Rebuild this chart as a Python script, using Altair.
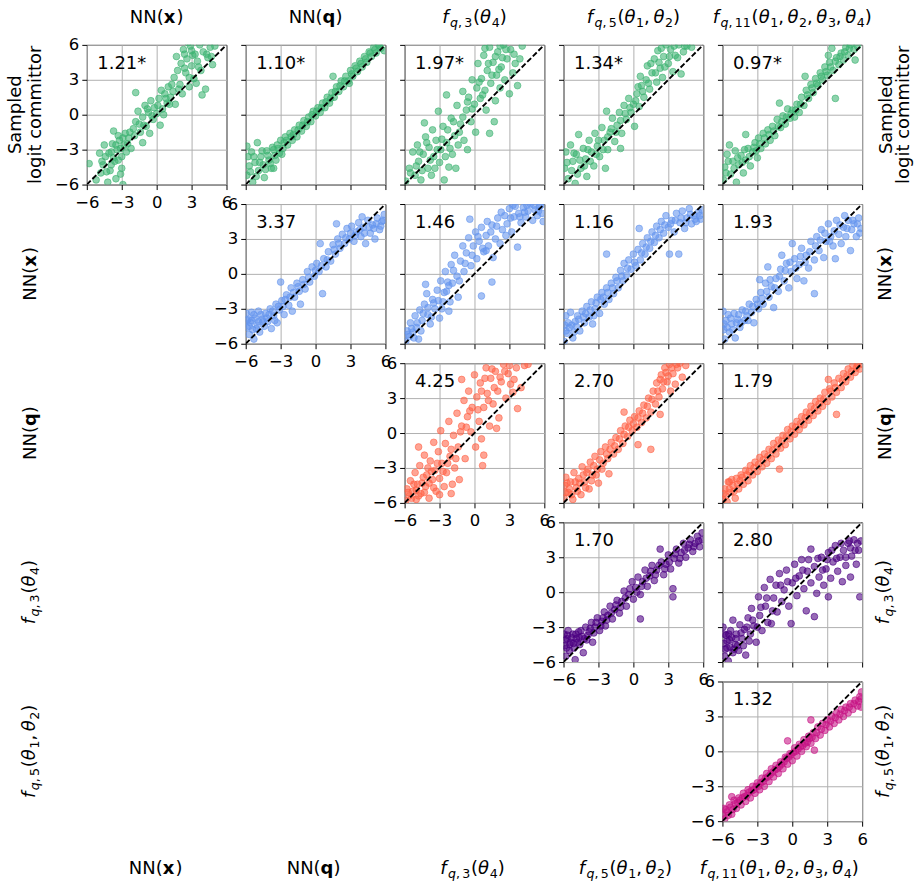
import altair as alt
import pandas as pd

FONT = "DejaVu Sans"
LIM = 6
TICKS = [-6, -3, 0, 3, 6]
COLORS = ["#3CB371", "#6495ED", "#FF6347", "#4B0082", "#C71585"]

# ---------------- data (x, y) per panel ----------------
# row 1: y = sampled logit committor
p11 = [(-5.8,-4.2),(-5.2,-5.6),(-4.8,-5.0),(-4.6,-4.3),(-4.4,-3.6),(-4.2,-5.8),(-4.0,-4.8),(-3.9,-3.2),(-3.8,-2.5),(-3.6,-4.0),
       (-3.5,-5.5),(-3.4,-3.0),(-3.3,-1.8),(-3.2,-2.2),(-3.0,-3.6),(-3.0,-4.6),(-2.8,-2.6),(-2.7,-1.6),(-2.6,-3.2),(-2.4,-2.0),
       (-4.5,-2.6),(-4.9,-3.3),(-3.7,-1.4),(-2.2,-2.9),(-3.1,-5.1),(-2.9,-6.0),(-2.0,-1.2),(-1.8,-0.6),(-1.6,0.3),(-1.8,1.9),
       (-1.4,-1.5),(-1.2,-0.2),(-1.0,0.8),(-0.9,-1.0),(-0.7,0.2),(-0.5,1.2),(-0.3,-0.4),(-0.2,0.6),(0.0,0.1),(0.2,1.4),
       (0.3,-0.9),(0.5,0.5),(0.7,1.8),(0.9,1.0),(1.0,2.4),(1.2,1.5),(1.4,2.0),(-0.6,-1.6),(0.4,2.1),(1.6,0.9),(-1.2,-2.4),
       (1.5,3.2),(1.8,3.8),(2.0,2.6),(2.1,4.4),(2.3,5.6),(2.5,3.6),(2.6,4.8),(2.8,2.4),(2.9,5.9),(3.0,4.2),(3.2,3.1),(3.3,5.2),
       (3.5,4.6),(3.7,6.0),(3.8,3.8),(3.9,1.7),(4.0,5.4),(4.2,2.2),(4.4,4.9),(4.6,5.8),(4.8,4.3),(2.2,1.8),(3.4,2.7),(1.7,5.0),
       (2.7,6.2),(4.1,6.3),(5.0,5.9),
       (-4.7,-4.0),(-4.3,-4.9),(-4.1,-3.3),(-3.9,-4.3),(-3.7,-3.7),(-3.5,-2.6),(-3.3,-3.9),(-3.1,-2.9),(-2.9,-2.0),(-2.5,-2.5),
       (-2.3,-1.5),(-1.9,-1.8),(-1.5,-0.8),(-1.1,-0.9),(-0.8,0.5),(-0.4,-0.1),(0.1,0.8),(0.6,0.0),(0.8,1.4),(1.1,0.9),
       (1.3,2.6),(1.9,2.2),(2.4,4.0),(2.8,3.2),(3.1,5.1),(3.6,4.1),(4.3,5.2),(4.7,5.0),(3.0,5.5),(2.4,5.2)]
p12 = [(-5.9,-2.7),(-5.8,-3.6),(-5.7,-4.4),(-5.9,-5.2),(-5.5,-3.2),(-5.4,-5.8),(-5.2,-4.1),(-5.0,-2.4),(-4.9,-4.8),(-4.7,-3.6),
       (-4.5,-4.3),(-4.4,-5.4),(-4.2,-3.1),(-4.0,-3.9),(-3.8,-4.6),(-3.7,-2.8),(-3.5,-3.5),(-3.3,-2.6),(-3.1,-3.3),(-3.0,-2.2),
       (-2.8,-2.9),(-2.6,-1.9),(-2.4,-2.6),(-2.2,-1.6),(-2.0,-2.2),(-1.8,-1.3),(-1.6,-1.9),(-1.4,-0.9),(-1.2,-1.4),(-1.0,-0.5),
       (-0.8,-1.0),(-0.6,-0.2),(-0.4,-0.6),(-0.2,0.3),(0.0,-0.1),(0.2,0.6),(0.4,0.2),(0.6,1.0),(0.8,0.6),(1.0,1.5),(1.2,1.0),
       (1.4,1.9),(1.5,3.3),(1.6,1.5),(1.8,2.4),(2.0,2.0),(2.2,2.9),(2.4,2.4),(2.6,3.3),(2.8,2.9),(2.9,2.7),(3.0,3.8),(3.2,3.3),
       (3.4,4.2),(3.6,3.7),(3.8,4.6),(4.0,4.1),(4.2,5.0),(4.4,4.5),(4.6,5.4),(4.8,5.0),(5.0,5.8),(5.2,5.3),(5.4,6.0),(5.6,5.7),
       (5.9,5.5),(-3.6,-4.6),
       (-5.6,-4.9),(-5.3,-3.6),(-5.1,-5.3),(-4.8,-4.1),(-4.6,-3.1),(-4.3,-4.7),(-4.1,-3.5),(-3.9,-4.2),(-3.6,-3.0),(-3.4,-3.9),
       (-3.2,-2.9),(-2.9,-3.4),(-2.7,-2.4),(-2.5,-2.2),(-2.1,-1.9),(-1.9,-1.7),(-1.5,-1.3),(-1.1,-0.9),(-0.7,-0.6),(-0.3,0.0),
       (0.1,0.3),(0.5,0.6),(0.9,1.1),(1.3,1.4),(1.7,2.0),(2.1,2.5),(2.5,2.9),(3.1,3.5),(3.5,4.0),(3.9,4.4),(4.3,4.8),(4.7,5.3),
       (5.1,5.6),(5.5,5.9)]
p13 = [(-5.9,-5.7),(-5.6,-4.6),(-5.3,-3.2),(-5.1,-5.2),(-4.9,-2.6),(-4.8,-4.0),(-4.6,-5.6),(-4.4,-3.4),(-4.3,-0.7),(-4.2,-1.9),
       (-4.0,-4.6),(-3.9,-2.8),(-3.7,-5.2),(-3.6,-1.3),(-3.5,-3.6),(-3.3,-2.2),(-3.1,0.3),(-3.0,-4.1),(-2.9,-3.0),(-2.7,-1.0),
       (-2.6,-5.6),(-2.4,1.7),(-2.4,-2.4),(-2.2,-4.5),(-2.0,-0.3),(-1.9,-3.4),(-1.7,-1.8),(-1.5,0.8),(-1.4,-2.6),(-1.2,-0.8),
       (-1.0,2.0),(-0.9,-2.2),(-0.7,0.4),(-0.5,1.5),(-0.3,-0.6),(-0.2,3.0),(0.0,0.9),(0.2,2.3),(0.3,4.4),(0.5,1.4),(0.6,3.1),
       (0.8,5.1),(0.9,2.1),(1.0,0.4),(1.1,3.8),(1.3,-1.6),(1.3,5.8),(1.4,2.7),(1.6,4.5),(1.8,1.2),(1.9,3.4),(2.0,5.4),(2.2,2.3),
       (2.3,4.1),(2.5,6.0),(2.6,3.0),(2.8,4.8),(3.0,1.8),(3.1,5.6),(3.3,3.6),(3.5,4.4),(3.7,2.5),(3.9,4.8),(4.1,5.9),(-1.6,-4.6),
       (-0.6,-3.0),(1.7,-0.6),(0.1,-1.5),
       (-5.5,-5.0),(-5.0,-4.4),(-4.7,-3.2),(-4.5,-4.8),(-4.1,-2.4),(-3.8,-3.9),(-3.4,-4.6),(-3.2,-3.0),(-2.8,-2.1),(-2.5,-3.6),
       (-2.3,-1.3),(-2.1,-2.9),(-1.8,-0.6),(-1.3,-1.5),(-1.0,-0.2),(-0.6,1.1),(-0.2,0.5),(0.4,2.8),(0.7,1.7),(1.2,4.4),
       (1.5,3.4),(1.8,5.0),(2.1,3.9),(2.4,4.9),(2.7,5.6),(0.9,5.7),(2.2,5.9),(3.4,5.2)]
p14 = [(-5.9,-4.6),(-5.8,-3.2),(-5.6,-5.5),(-5.4,-2.6),(-5.2,-4.0),(-5.0,-5.9),(-4.9,-3.4),(-4.7,-1.7),(-4.5,-4.6),(-4.3,-2.9),
       (-4.1,-3.8),(-4.0,-5.3),(-3.8,-2.2),(-3.6,-3.2),(-3.4,-4.4),(-3.3,-1.6),(-3.1,-2.7),(-2.9,-3.6),(-2.7,-1.1),(-2.5,-2.2),
       (-2.4,-4.6),(-2.3,0.3),(-2.2,-3.0),(-2.0,-1.5),(-1.8,-0.3),(-1.6,-2.3),(-1.4,-0.9),(-1.2,0.2),(-1.0,-1.6),(-0.8,0.8),
       (-0.6,-0.4),(-0.4,1.4),(-0.2,0.2),(0.0,0.9),(0.1,-1.0),(0.3,1.8),(0.5,0.7),(0.6,3.3),(0.7,2.5),(0.9,1.5),(1.1,3.0),
       (1.2,4.2),(1.4,2.2),(1.6,3.6),(1.8,4.8),(2.0,2.8),(2.1,5.5),(2.3,4.0),(2.5,3.2),(2.6,5.0),(2.8,6.0),(3.0,4.4),(3.2,5.6),
       (3.4,3.7),(3.6,5.1),(3.9,6.0),(4.1,3.5),(4.3,5.4),(4.6,5.9),(5.0,5.8),(-1.1,-2.9),
       (-5.7,-4.1),(-5.3,-4.8),(-5.1,-3.3),(-4.8,-5.1),(-4.6,-3.9),(-4.2,-4.4),(-3.9,-3.0),(-3.7,-4.0),(-3.2,-3.4),(-3.0,-2.2),
       (-2.6,-3.0),(-2.2,-1.9),(-1.9,-1.2),(-1.5,-1.5),(-1.1,-0.5),(-0.7,0.1),(-0.3,0.6),(0.2,1.2),(0.4,2.4),(0.8,2.0),
       (1.3,2.7),(1.5,4.4),(1.9,3.6),(2.2,4.5),(2.4,5.7),(2.7,4.1),(3.1,5.0),(3.5,5.9),(3.8,4.9),(4.4,5.9)]
p15 = [(-5.9,-5.6),(-5.8,-4.5),(-5.6,-3.4),(-5.4,-2.6),(-5.3,-5.1),(-5.1,-4.0),(-4.9,-3.1),(-4.8,-5.8),(-4.6,-4.3),(-4.4,-3.5),
       (-4.2,-5.0),(-4.0,-1.7),(-4.0,-3.9),(-3.8,-2.9),(-3.6,-4.4),(-3.4,-3.2),(-3.2,-2.4),(-3.0,-3.7),(-2.9,-2.0),(-2.7,-2.9),
       (-2.5,-1.6),(-2.3,-2.5),(-2.1,-1.3),(-1.9,-2.2),(-1.7,-1.0),(-1.5,-1.8),(-1.3,-0.4),(-1.1,1.0),(-1.0,-1.1),(-0.8,-0.1),
       (-0.6,-0.8),(-0.4,0.5),(-0.2,-0.3),(0.0,0.4),(0.2,-0.2),(0.4,0.9),(0.6,0.2),(0.8,1.5),(1.0,0.8),(1.1,3.3),(1.2,2.1),
       (1.4,1.4),(1.6,2.6),(1.8,1.9),(2.0,3.1),(2.2,2.5),(2.4,3.6),(2.6,3.0),(2.8,4.1),(3.0,3.4),(3.2,4.5),(3.4,5.7),(3.5,3.8),
       (3.7,1.4),(3.8,4.9),(4.0,4.3),(4.2,5.3),(4.4,4.7),(4.6,5.8),(4.8,5.1),(5.0,6.0),(5.3,5.6),(5.6,5.9),(5.4,4.7),
       (-5.7,-5.0),(-5.5,-4.0),(-5.0,-4.6),(-4.7,-3.7),(-4.3,-4.1),(-4.1,-3.0),(-3.7,-3.6),(-3.3,-2.8),(-3.1,-3.1),(-2.8,-2.5),
       (-2.4,-2.0),(-2.0,-1.7),(-1.6,-1.4),(-1.2,-1.0),(-0.9,-0.6),(-0.5,-0.2),(-0.1,0.1),(0.3,0.4),(0.7,0.9),(1.3,1.7),
       (1.7,2.3),(2.1,2.7),(2.5,3.3),(2.9,3.7),(3.3,4.1),(3.7,4.6),(4.1,5.0),(4.5,5.4),(4.9,5.7),(3.1,5.1)]
# row 2: y = NN(x)
p22 = [(-5.95,-3.4),(-5.9,-4.6),(-5.8,-3.9),(-5.7,-5.2),(-5.6,-4.2),(-5.5,-3.3),(-5.4,-4.8),(-5.2,-3.8),(-5.0,-4.4),(-4.9,-3.2),
       (-4.8,-5.0),(-4.6,-3.9),(-4.4,-4.5),(-4.3,-3.4),(-4.1,-4.1),(-3.9,-3.0),(-3.8,-4.7),(-3.6,-3.6),(-3.4,-2.6),(-3.3,-4.2),
       (-3.1,-3.1),(-3.0,-0.7),(-2.9,-2.3),(-2.7,-3.5),(-2.5,-1.8),(-2.3,-2.7),(-2.1,-1.2),(-2.0,-3.2),(-1.8,-2.0),(-1.6,-0.8),
       (-1.4,-1.5),(-1.3,-2.6),(-1.1,-0.5),(-0.9,-1.3),(-0.7,0.2),(-0.5,-0.7),(-0.3,0.6),(-0.1,-0.2),(0.1,0.9),(0.3,0.2),
       (0.4,2.6),(0.6,-1.7),(0.7,1.3),(0.9,0.6),(1.1,1.9),(1.3,1.1),(1.5,2.5),(1.7,1.7),(1.8,4.3),(1.9,3.0),(2.1,2.2),(2.3,3.4),
       (2.5,2.6),(2.7,3.9),(2.9,3.0),(3.1,4.1),(3.3,2.8),(3.5,3.6),(3.7,4.4),(3.9,3.2),(4.1,4.0),(4.3,2.6),(4.5,4.6),(4.7,3.5),
       (4.9,4.2),(5.1,3.0),(5.3,4.8),(5.5,3.8),(5.7,4.5),(5.9,5.1),(4.0,4.9),(5.0,3.9),(-5.3,-5.6),
       (-5.9,-4.0),(-5.7,-4.5),(-5.5,-4.0),(-5.3,-3.5),(-5.1,-4.7),(-4.9,-4.1),(-4.7,-3.5),(-4.5,-4.1),(-4.2,-3.8),(-4.0,-3.5),
       (-3.7,-3.2),(-3.5,-4.0),(-3.2,-2.8),(-2.8,-2.8),(-2.6,-2.2),(-2.2,-2.0),(-1.9,-1.6),(-1.5,-1.1),(-1.0,-0.9),(-0.6,-0.3),
       (0.0,0.3),(0.5,0.7),(1.0,1.2),(1.6,2.1),(2.0,2.6),(2.6,3.1),(3.0,3.5),(3.4,3.3),(3.8,3.8),(4.2,3.5),(4.6,4.0),(5.2,4.3),
       (5.6,4.1),(5.8,4.6)]
p23 = [(-5.9,-5.8),(-5.8,-4.9),(-5.6,-5.4),(-5.5,-4.2),(-5.3,-5.0),(-5.1,-3.6),(-5.0,-4.6),(-4.8,-5.6),(-4.7,-3.1),(-4.5,-4.0),
       (-4.3,-2.6),(-4.2,-0.9),(-4.1,-1.7),(-4.0,-3.5),(-3.8,-4.3),(-3.6,-2.2),(-3.4,-3.0),(-3.2,-1.4),(-3.0,-3.8),(-2.9,-0.6),
       (-2.7,-2.4),(-2.5,0.2),(-2.4,-1.5),(-2.2,-3.2),(-2.0,0.8),(-1.9,-0.8),(-1.7,1.6),(-1.5,-0.2),(-1.4,-2.0),(-1.2,1.1),
       (-1.0,2.4),(-0.9,0.2),(-0.7,1.8),(-0.5,3.1),(-0.4,4.7),(-0.3,0.7),(-0.1,2.4),(0.1,3.6),(0.2,1.3),(0.4,2.8),(0.6,-1.9),
       (0.6,4.0),(0.8,1.9),(1.0,3.3),(1.2,2.4),(1.5,-0.7),(1.5,4.2),(1.6,1.4),(1.8,3.0),(2.0,4.8),(2.2,2.6),(2.4,3.8),(2.6,5.0),
       (2.8,4.3),(3.0,5.6),(3.2,3.6),(3.4,4.9),(3.5,5.8),(3.7,2.3),(3.8,5.2),(4.0,4.4),(4.2,5.7),(4.4,4.9),(4.6,5.4),(4.8,6.0),
       (5.0,4.6),(5.2,5.5),(5.4,5.0),(5.6,5.8),(5.8,5.2),(5.9,4.5),(1.0,2.0),(-2.2,-1.0),
       (-5.7,-5.2),(-5.4,-4.7),(-5.2,-5.5),(-4.9,-4.2),(-4.6,-4.9),(-4.4,-3.4),(-4.0,-2.9),(-3.7,-3.7),(-3.5,-2.5),(-3.1,-2.3),
       (-2.8,-3.0),(-2.6,-1.6),(-2.3,-0.7),(-2.1,-2.4),(-1.8,0.3),(-1.3,-0.6),(-0.8,0.9),(-0.2,1.6),(0.3,3.2),(0.7,2.2),
       (1.1,4.5),(1.4,3.6),(1.9,4.1),(2.3,5.3),(2.7,3.3),(3.1,4.8),(3.3,5.9),(3.9,4.9),(4.3,5.3),(4.5,5.9),(5.1,5.9),(5.5,5.4),
       (5.7,5.9)]
p24 = [(-5.95,-5.8),(-5.9,-4.4),(-5.8,-3.6),(-5.7,-5.1),(-5.5,-4.6),(-5.4,-3.3),(-5.2,-5.5),(-5.0,-4.1),(-4.8,-3.6),(-4.6,-4.9),
       (-4.4,-3.2),(-4.2,-4.2),(-4.0,-2.8),(-3.8,-3.7),(-3.6,-2.4),(-3.5,-4.3),(-3.3,-3.0),(-3.1,-2.0),(-2.9,-3.4),(-2.7,-1.6),
       (-2.5,-2.6),(-2.3,1.7),(-2.3,-1.2),(-2.1,-2.2),(-1.9,-0.8),(-1.7,-1.7),(-1.5,-0.3),(-1.3,-1.2),(-1.1,0.3),(-0.9,-0.6),
       (-0.8,0.9),(-0.6,-0.1),(-0.4,1.2),(-0.2,0.4),(0.0,1.7),(0.2,0.7),(0.4,2.1),(0.5,3.9),(0.6,1.2),(0.8,2.6),(1.0,1.7),
       (1.2,3.1),(1.4,2.2),(1.6,3.6),(1.8,2.7),(2.0,4.1),(2.2,3.1),(2.4,4.5),(2.6,3.5),(2.8,5.0),(3.0,4.0),(3.1,1.7),(3.3,4.6),
       (3.5,3.6),(3.7,5.2),(3.9,1.7),(4.0,4.4),(4.2,5.4),(4.4,3.9),(4.6,4.8),(4.8,5.6),(5.0,4.3),(5.2,5.0),(5.4,4.5),(5.6,5.3),
       (5.8,4.7),(5.9,5.5),
       (-5.8,-4.9),(-5.6,-4.2),(-5.3,-4.4),(-5.1,-5.0),(-4.9,-4.5),(-4.7,-3.9),(-4.3,-3.7),(-4.1,-3.4),(-3.7,-3.1),(-3.4,-3.6),
       (-3.2,-2.5),(-2.8,-2.2),(-2.6,-2.0),(-2.2,-1.6),(-1.8,-1.2),(-1.4,-0.6),(-1.0,-0.2),(-0.5,0.5),(0.1,1.0),(0.7,1.8),
       (1.1,2.3),(1.5,2.8),(1.9,3.3),(2.3,3.8),(2.7,4.2),(3.2,4.3),(3.6,4.6),(4.1,4.8),(4.5,4.4),(4.9,5.1),(5.3,4.7),(5.7,5.0)]
p25 = [(-5.95,-3.2),(-5.9,-4.8),(-5.8,-5.6),(-5.7,-4.0),(-5.5,-3.5),(-5.4,-5.0),(-5.2,-4.3),(-5.0,-3.4),(-4.9,-5.5),(-4.7,-3.9),
       (-4.5,-4.6),(-4.3,-3.1),(-4.1,-4.0),(-3.9,-3.6),(-3.7,-2.6),(-3.5,-3.3),(-3.3,-4.2),(-3.1,-2.2),(-2.9,-3.0),(-2.7,-1.6),
       (-2.5,-2.6),(-2.3,-0.8),(-2.1,0.6),(-2.0,-2.0),(-1.8,-1.1),(-1.6,-2.9),(-1.4,-0.4),(-1.2,-1.5),(-1.0,0.4),(-0.9,1.6),
       (-0.7,-0.6),(-0.5,0.9),(-0.3,-1.2),(-0.1,0.2),(0.0,2.6),(0.2,1.3),(0.4,-0.4),(0.6,0.8),(0.8,2.2),(1.0,-0.6),(1.2,1.6),
       (1.4,0.5),(1.6,2.8),(1.9,-1.7),(1.9,1.2),(2.1,3.2),(2.3,2.0),(2.5,3.8),(2.7,1.4),(2.9,2.8),(3.1,4.3),(3.3,3.2),(3.5,2.4),
       (3.7,1.3),(3.8,4.6),(4.0,3.4),(4.2,2.6),(4.4,4.0),(4.6,3.2),(4.8,4.6),(5.0,2.0),(5.1,3.8),(5.3,4.3),(5.5,3.2),(5.7,4.8),
       (5.9,3.9),(4.5,5.0),(-2.8,-0.5),
       (-5.85,-4.3),(-5.6,-4.6),(-5.3,-3.8),(-5.1,-4.8),(-4.8,-4.2),(-4.6,-3.5),(-4.4,-4.2),(-4.0,-3.2),(-3.8,-4.0),(-3.4,-2.8),
       (-3.0,-2.6),(-2.6,-2.1),(-2.2,-1.5),(-1.9,-0.5),(-1.5,-1.2),(-1.1,-0.2),(-0.6,0.3),(-0.2,1.0),(0.3,0.5),(0.7,1.5),
       (1.1,1.0),(1.5,1.9),(2.0,2.4),(2.4,2.9),(2.8,3.5),(3.2,2.8),(3.6,3.7),(4.1,4.2),(4.7,3.9),(5.2,4.6),(5.6,4.3),(5.8,3.5)]
# row 3: y = NN(q)
p33 = [(-5.9,-5.8),(-5.8,-4.8),(-5.6,-5.4),(-5.5,-4.1),(-5.3,-5.0),(-5.1,-3.4),(-5.0,-5.7),(-4.9,-4.4),(-4.7,-2.8),(-4.6,-5.2),
       (-4.4,-3.8),(-4.3,-1.9),(-4.2,-4.6),(-4.0,-3.0),(-3.9,-5.6),(-3.8,-2.4),(-3.6,-4.0),(-3.5,-0.8),(-3.4,-3.2),(-3.3,-5.0),
       (-3.1,-1.6),(-3.0,-3.9),(-2.9,0.2),(-2.8,-2.6),(-2.6,-4.6),(-2.5,-0.9),(-2.4,-3.4),(-2.2,1.0),(-2.1,-2.0),(-2.0,-5.2),
       (-1.8,-0.2),(-1.7,-3.0),(-1.5,1.7),(-1.4,-1.2),(-1.3,-4.0),(-1.1,4.6),(-1.1,0.6),(-0.9,2.8),(-0.8,-2.2),(-0.6,1.4),
       (-0.5,3.6),(-0.3,0.1),(-0.2,2.2),(0.0,5.0),(0.1,-1.2),(0.2,3.1),(0.4,1.0),(0.5,4.3),(0.7,-2.8),(0.8,-1.9),(0.8,2.2),
       (1.0,5.6),(1.1,3.4),(1.3,0.6),(1.4,4.7),(1.6,2.5),(1.8,5.3),(2.0,3.6),(2.1,1.3),(2.3,4.4),(2.5,5.9),(2.7,3.0),(2.9,5.1),
       (3.1,4.2),(3.4,4.6),(3.6,5.6),(3.7,2.1),(4.0,3.9),(4.3,5.8),(4.6,5.9),(-4.8,-1.2),(-1.9,-4.4),(0.6,-0.5),(1.9,0.4),
       (-5.7,-5.1),(-5.4,-5.6),(-5.2,-4.4),(-5.0,-4.9),(-4.8,-5.4),(-4.5,-4.3),(-4.3,-5.1),(-4.1,-3.6),(-3.9,-4.3),(-3.7,-3.3),
       (-3.5,-4.7),(-3.2,-2.6),(-3.0,-5.3),(-2.7,-3.3),(-2.3,-2.6),(-2.0,-1.4),(-1.6,-2.2),(-1.2,0.1),(-0.7,0.5),(-0.4,1.9),
       (0.3,2.0),(0.6,3.6),(0.9,4.7),(1.2,2.8),(1.5,5.5),(1.7,3.9),(2.2,4.8),(2.6,5.3),(3.0,5.8),(3.3,3.5)]
p34 = [(-5.95,-5.6),(-5.9,-4.5),(-5.8,-3.8),(-5.6,-5.1),(-5.4,-4.2),(-5.2,-5.7),(-5.1,-3.4),(-4.9,-4.7),(-4.7,-3.9),(-4.5,-5.3),
       (-4.4,-2.9),(-4.2,-4.2),(-4.0,-3.4),(-3.8,-4.8),(-3.7,-2.5),(-3.5,-3.6),(-3.3,-2.0),(-3.1,-3.1),(-3.0,-4.3),(-2.8,-1.6),
       (-2.6,-2.6),(-2.4,-1.2),(-2.2,-2.2),(-2.1,-3.5),(-1.9,-0.8),(-1.7,-1.8),(-1.5,-0.4),(-1.3,-1.4),(-1.1,0.2),(-0.9,-0.9),
       (-0.7,0.6),(-0.5,-0.3),(-0.3,1.1),(-0.1,0.2),(0.1,1.4),(0.3,0.5),(0.5,1.9),(0.7,0.9),(0.9,2.4),(1.1,1.3),(1.3,3.0),
       (1.5,-1.4),(1.5,1.8),(1.7,3.6),(1.9,2.5),(2.0,4.3),(2.2,3.1),(2.4,5.0),(2.5,3.8),(2.7,5.6),(2.9,4.4),(3.1,5.9),(3.2,3.6),
       (3.4,5.1),(3.6,4.2),(3.8,5.6),(4.0,6.0),(4.2,4.8),(4.5,5.8),(-0.8,1.8),(0.4,-1.0),(2.3,1.6),
       (-5.85,-5.1),(-5.7,-4.3),(-5.5,-4.8),(-5.3,-5.3),(-5.0,-4.2),(-4.8,-5.0),(-4.6,-4.3),(-4.3,-3.6),(-4.1,-4.7),(-3.9,-3.1),
       (-3.6,-4.1),(-3.4,-2.8),(-3.2,-3.6),(-2.9,-2.3),(-2.7,-3.1),(-2.3,-1.8),(-2.0,-1.4),(-1.6,-1.1),(-1.2,-0.5),(-0.8,-0.1),
       (-0.4,0.5),(0.0,0.8),(0.4,1.3),(0.8,1.7),(1.2,2.3),(1.6,2.9),(2.1,3.6),(2.3,4.6),(2.6,4.4),(2.8,5.2),(3.0,4.9),(3.3,5.6),
       (3.7,5.9)]
p35 = [(-5.95,-5.7),(-5.8,-4.8),(-5.6,-5.9),(-5.5,-4.2),(-5.3,-5.1),(-5.1,-4.5),(-4.9,-5.6),(-4.8,-3.9),(-4.6,-4.8),(-4.4,-3.6),
       (-4.2,-4.4),(-4.0,-3.2),(-3.8,-4.1),(-3.6,-2.8),(-3.4,-3.6),(-3.2,-2.5),(-3.0,-3.3),(-2.8,-2.1),(-2.6,-2.9),(-2.4,-1.8),
       (-2.2,-2.6),(-2.0,-1.4),(-1.8,-2.2),(-1.6,-0.9),(-1.4,-1.8),(-1.1,-3.1),(-1.2,-0.6),(-1.0,-1.3),(-0.8,-0.2),(-0.6,-1.0),
       (-0.4,0.3),(-0.2,-0.5),(0.0,0.6),(0.2,-0.1),(0.4,1.0),(0.6,0.3),(0.8,1.4),(1.0,0.7),(1.2,1.8),(1.4,1.1),(1.6,2.3),
       (1.8,1.5),(2.0,2.7),(2.2,1.9),(2.4,3.0),(2.6,2.3),(2.8,3.5),(3.0,2.7),(3.1,4.6),(3.2,3.8),(3.4,3.1),(3.6,4.3),(3.8,1.6),
       (3.8,3.5),(4.0,4.7),(4.2,3.9),(4.4,5.1),(4.6,4.4),(4.8,5.5),(5.0,4.8),(5.2,5.8),(5.4,5.2),(5.6,5.9),(5.8,5.5),(-5.4,-4.2),
       (-5.9,-5.2),(-5.7,-5.4),(-5.4,-4.8),(-5.2,-4.0),(-5.0,-5.0),(-4.7,-4.4),(-4.5,-4.1),(-4.3,-3.8),(-3.9,-3.6),(-3.7,-3.3),
       (-3.3,-3.0),(-2.9,-2.7),(-2.5,-2.3),(-2.1,-2.0),(-1.7,-1.5),(-1.3,-1.2),(-0.9,-0.7),(-0.5,-0.3),(-0.1,0.1),(0.3,0.5),
       (0.7,0.8),(1.1,1.3),(1.5,1.7),(1.9,2.1),(2.3,2.5),(2.7,2.9),(3.3,3.6),(3.7,3.9),(4.3,4.5),(4.7,4.9),(5.1,5.3),(5.5,5.6),
       (5.9,5.9)]
# row 4: y = f_q,3
p44 = [(-5.95,-3.6),(-5.9,-4.6),(-5.8,-5.5),(-5.7,-4.0),(-5.6,-3.3),(-5.5,-5.0),(-5.4,-4.3),(-5.2,-3.6),(-5.1,-4.8),(-5.0,-5.8),
       (-4.9,-4.0),(-4.7,-3.4),(-4.6,-4.5),(-4.4,-3.8),(-4.3,-5.2),(-4.1,-3.0),(-4.0,-4.1),(-3.8,-3.4),(-3.6,-2.6),(-3.5,-4.3),
       (-3.3,-3.0),(-3.1,-2.2),(-2.9,-3.3),(-2.7,-2.5),(-2.5,-1.7),(-2.4,-2.9),(-2.2,-2.0),(-2.0,-1.2),(-1.8,-2.3),(-1.6,-1.5),
       (-1.4,-0.7),(-1.2,-1.8),(-1.0,-0.8),(-0.8,0.1),(-0.6,-1.2),(-0.4,-0.2),(-0.1,0.9),(0.0,-0.6),(0.2,0.4),(0.4,1.3),
       (0.6,-2.3),(0.6,-0.2),(0.8,0.9),(1.0,1.9),(1.2,0.5),(1.4,1.4),(1.6,2.3),(1.8,1.0),(2.0,1.9),(2.3,3.7),(2.4,2.6),(2.6,1.5),
       (2.8,2.4),(3.0,3.2),(3.2,2.0),(3.4,0.3),(3.4,-0.4),(3.5,2.9),(3.7,3.7),(3.9,2.5),(4.1,3.4),(4.3,4.2),(4.5,3.0),(4.7,3.8),
       (4.9,4.5),(5.1,3.5),(5.3,4.2),(5.5,4.8),(5.7,3.9),(5.9,4.5),(5.9,5.1),
       (-5.85,-4.1),(-5.75,-4.8),(-5.65,-3.7),(-5.45,-4.5),(-5.3,-3.9),(-5.15,-4.4),(-4.95,-3.6),(-4.8,-4.3),(-4.65,-3.9),
       (-4.5,-3.3),(-4.2,-4.0),(-3.9,-3.7),(-3.7,-3.1),(-3.4,-3.5),(-3.2,-2.6),(-2.8,-2.9),(-2.6,-2.2),(-2.3,-2.4),(-1.9,-1.8),
       (-1.5,-1.1),(-1.1,-1.3),(-0.7,-0.5),(-0.3,0.3),(0.3,0.0),(0.7,0.5),(1.1,1.2),(1.5,1.8),(1.9,1.5),(2.2,2.3),(2.7,2.0),
       (3.1,2.6),(3.6,3.3),(4.0,2.9),(4.4,3.6),(4.8,4.1),(5.2,3.9),(5.6,4.4)]
p45 = [(-5.95,-3.0),(-5.9,-4.4),(-5.8,-5.5),(-5.7,-3.7),(-5.6,-4.8),(-5.5,-5.9),(-5.4,-4.1),(-5.3,-3.3),(-5.1,-2.4),(-5.1,-5.2),
       (-4.9,-4.5),(-4.8,-3.6),(-4.6,-5.0),(-4.5,-2.8),(-4.3,-4.0),(-4.1,-3.2),(-4.0,-5.4),(-3.8,-2.2),(-3.6,-3.6),(-3.5,-1.4),
       (-3.3,-2.9),(-3.1,-4.3),(-2.9,-0.4),(-2.8,-2.0),(-2.6,-3.3),(-2.4,0.4),(-2.3,-1.2),(-2.1,-2.6),(-1.9,1.1),(-1.8,-2.7),
       (-1.6,-0.5),(-1.4,0.6),(-1.3,-1.7),(-1.1,1.6),(-0.9,-0.8),(-0.7,0.2),(-0.5,1.9),(-0.3,-1.2),(-0.1,-2.7),(0.0,0.8),
       (0.2,2.4),(0.4,-0.3),(0.6,1.4),(0.8,2.8),(1.0,0.3),(1.2,-1.6),(1.3,1.8),(1.6,3.7),(1.6,0.8),(1.9,-2.1),(1.9,2.2),
       (2.1,-0.1),(2.3,1.3),(2.5,3.0),(2.7,0.6),(2.9,2.0),(3.1,-0.4),(3.1,3.4),(3.3,1.2),(3.5,2.6),(3.7,4.0),(3.9,1.8),(4.1,3.0),
       (4.3,0.9),(4.4,3.6),(4.6,2.3),(4.8,4.2),(5.0,1.3),(5.1,3.1),(5.3,4.5),(5.5,2.4),(5.7,3.6),(5.8,-0.4),(5.9,4.4),(4.9,4.4),
       (-5.85,-3.6),(-5.75,-4.9),(-5.6,-4.2),(-5.45,-3.6),(-5.35,-4.7),(-5.2,-3.9),(-5.0,-4.9),(-4.85,-4.0),(-4.7,-4.6),
       (-4.4,-3.5),(-4.2,-4.6),(-3.9,-3.0),(-3.7,-4.2),(-3.4,-2.4),(-3.0,-3.0),(-2.7,-1.3),(-2.2,-0.5),(-1.7,-1.6),(-1.0,0.6),
       (-0.4,0.9),(0.3,1.2),(0.9,1.9),(1.4,2.8),(2.2,2.9),(2.6,1.9),(3.0,2.8),(3.4,3.6),(3.8,2.9),(4.2,4.2),(4.6,3.0),(5.0,3.8),
       (5.4,3.6),(5.6,4.2)]
# row 5: y = f_q,5
p55 = [(-5.95,-5.5),(-5.9,-4.9),(-5.8,-5.8),(-5.6,-5.2),(-5.4,-4.6),(-5.2,-5.4),(-5.0,-4.2),(-4.8,-4.9),(-4.6,-4.0),(-4.4,-4.6),
       (-4.2,-3.6),(-4.0,-4.3),(-3.8,-3.3),(-3.6,-4.0),(-3.4,-3.0),(-3.2,-3.6),(-3.0,-2.7),(-2.8,-3.3),(-2.6,-2.3),(-2.4,-3.0),
       (-2.2,-1.9),(-2.0,-2.6),(-1.8,-1.5),(-1.6,-2.2),(-1.4,-1.2),(-1.2,-1.9),(-1.0,-0.9),(-0.8,-1.5),(-0.6,-0.5),(-0.4,0.9),
       (-0.4,-1.1),(-0.2,-0.2),(0.0,-0.8),(0.2,0.3),(0.4,-0.4),(0.6,0.6),(0.8,0.0),(1.0,1.0),(1.2,0.4),(1.4,1.3),(1.6,0.7),
       (1.9,0.1),(1.8,1.6),(2.0,1.1),(2.2,2.1),(2.4,1.4),(2.6,2.4),(2.8,1.8),(3.0,2.7),(3.2,2.1),(3.4,3.0),(3.6,2.4),(3.8,3.3),
       (4.0,2.7),(4.2,3.6),(4.4,3.0),(4.6,3.8),(4.8,3.3),(5.0,4.1),(5.2,3.6),(5.4,4.4),(5.6,3.9),(5.8,4.7),(5.9,3.8),(5.95,5.1),
       (1.6,2.7),(-5.2,-3.9),
       (-5.7,-5.0),(-5.5,-5.5),(-5.3,-4.8),(-5.1,-5.0),(-4.9,-4.5),(-4.7,-4.4),(-4.5,-4.2),(-4.3,-4.0),(-4.1,-3.9),(-3.9,-3.8),
       (-3.7,-3.5),(-3.5,-3.4),(-3.3,-3.3),(-3.1,-3.0),(-2.9,-3.0),(-2.7,-2.7),(-2.5,-2.6),(-2.3,-2.3),(-2.1,-2.2),(-1.9,-2.0),
       (-1.7,-1.8),(-1.5,-1.6),(-1.3,-1.5),(-1.1,-1.3),(-0.9,-1.1),(-0.7,-0.9),(-0.5,-0.6),(-0.3,-0.5),(-0.1,-0.3),(0.1,-0.1),
       (0.3,0.0),(0.5,0.2),(0.7,0.4),(0.9,0.5),(1.1,0.7),(1.3,0.8),(1.5,1.1),(1.7,1.2),(2.1,1.6),(2.5,1.9),(2.9,2.3),(3.3,2.6),
       (3.7,2.9),(4.1,3.2),(4.5,3.5),(4.9,3.8),(5.3,4.1),(5.7,4.3),(5.9,4.5)]

PANELS = {(0, 0): p11, (0, 1): p12, (0, 2): p13, (0, 3): p14, (0, 4): p15,
          (1, 1): p22, (1, 2): p23, (1, 3): p24, (1, 4): p25,
          (2, 2): p33, (2, 3): p34, (2, 4): p35,
          (3, 3): p44, (3, 4): p45,
          (4, 4): p55}
SCORES = {(0, 0): "1.21*", (0, 1): "1.10*", (0, 2): "1.97*", (0, 3): "1.34*", (0, 4): "0.97*",
          (1, 1): "3.37", (1, 2): "1.46", (1, 3): "1.16", (1, 4): "1.93",
          (2, 2): "4.25", (2, 3): "2.70", (2, 4): "1.79",
          (3, 3): "1.70", (3, 4): "2.80",
          (4, 4): "1.32"}

# ---------------- layout constants ----------------
PW = 140
MAIN = 18
SUB = 12.6
SUBDY = 4.3
TICKF = 16.5
DUMMY = pd.DataFrame({"k": [0]})

CW = {"N": 0.748, "(": 0.390, ")": 0.390, "x": 0.592, "q": 0.635, "f": 0.352, ",": 0.318, " ": 0.318, "θ": 0.613}
for d in "0123456789":
    CW[d] = 0.636
BW = dict(CW, x=0.711, q=0.716)


def seg_width(t, st):
    size = SUB if st in ("si", "sn") else MAIN
    tbl = BW if st == "b" else CW
    return sum(tbl.get(ch, 0.6) for ch in t) * size


def rich(segs, x0, y0, rotate=False):
    total = 0.0
    placed = []
    for t, st in segs:
        if st == "g":
            total += t * MAIN
            continue
        placed.append((t, st, total))
        total += seg_width(t, st)
    out = []
    for t, st, off in placed:
        size = SUB if st in ("si", "sn") else MAIN
        shift = SUBDY if st in ("si", "sn") else 0
        along = off - total / 2
        if rotate:
            px, py, ang = x0 + shift, y0 - along, 270
        else:
            px, py, ang = x0 + along, y0 + shift, 0
        out.append(alt.Chart(DUMMY).mark_text(
            text=t, align="left", baseline="alphabetic", angle=ang, font=FONT, fontSize=size,
            fontStyle="italic" if st in ("i", "si") else "normal",
            fontWeight="bold" if st == "b" else "normal", color="black"
        ).encode(x=alt.value(px), y=alt.value(py)))
    return out


def plain(text, x0, y0):
    return [alt.Chart(DUMMY).mark_text(
        text=text, align="center", baseline="alphabetic", angle=270,
        font=FONT, fontSize=MAIN, color="black").encode(x=alt.value(x0), y=alt.value(y0))]


def nn(v):
    return [("NN(", "n"), (v, "b"), (")", "n")]


def fq(sub, args):
    s = [("f", "i"), (0.08, "g"), ("q", "si"), (",", "sn"), (0.12, "g"), (sub, "sn"), (0.05, "g"), ("(", "n")]
    for i, a in enumerate(args):
        if i:
            s += [(",", "n"), (0.2, "g")]
        s += [("θ", "i"), (0.03, "g"), (str(a), "sn")]
    s.append((")", "n"))
    return s


COL_LABELS = [nn("x"), nn("q"), fq("3", [4]), fq("5", [1, 2]), fq("11", [1, 2, 3, 4])]
ROW_LABELS = [None, nn("x"), nn("q"), fq("3", [4]), fq("5", [1, 2])]
BOTTOM_X = [69, 68, 68, 62, 57]


def axis(show):
    return alt.Axis(values=TICKS, labels=show, grid=True, ticks=True, title=None)


def labels_for(r, c):
    layers = []
    if r == 0:
        layers += rich(COL_LABELS[c], PW / 2, -22)
    if r == 4:
        layers += rich(COL_LABELS[c], BOTTOM_X[c], 193)
    if c == 0:
        if r == 0:
            layers += plain("Sampled", -66, PW / 2) + plain("logit committor", -46, PW / 2)
        else:
            bx = -50.5 if r <= 2 else -52
            layers += rich(ROW_LABELS[r], bx, PW / 2, rotate=True)
    if c == 4:
        if r == 0:
            layers += plain("Sampled", 169.5, PW / 2) + plain("logit committor", 187, PW / 2)
        else:
            bx = 168.5 if r <= 2 else 167
            layers += rich(ROW_LABELS[r], bx, PW / 2, rotate=True)
    if (r, c) == (0, 0):
        layers.append(alt.Chart(DUMMY).mark_rule(strokeOpacity=0).encode(
            x=alt.value(-86), y=alt.value(-43), x2=alt.value(-86), y2=alt.value(-43)))
    if (r, c) == (4, 4):
        layers.append(alt.Chart(DUMMY).mark_rule(strokeOpacity=0).encode(
            x=alt.value(199), y=alt.value(209), x2=alt.value(199), y2=alt.value(209)))
    return layers


def panel(r, c):
    df = pd.DataFrame(PANELS[(r, c)], columns=["x", "y"])
    sc = alt.Scale(domain=[-LIM, LIM], nice=False, zero=False)
    show = r == c
    X = alt.X("x:Q", scale=sc, axis=axis(show))
    Y = alt.Y("y:Q", scale=sc, axis=axis(show))
    pts = alt.Chart(df).mark_circle(size=46, fill=COLORS[r], stroke=COLORS[r], strokeWidth=1,
                                    fillOpacity=0.58, strokeOpacity=0.58, clip=True).encode(x=X, y=Y)
    diag = pd.DataFrame({"x": [-LIM, LIM], "y": [-LIM, LIM]})
    line = alt.Chart(diag).mark_line(color="black", strokeDash=[5.5, 2.4], strokeWidth=1.9, clip=True).encode(x=X, y=Y)
    txt = alt.Chart(DUMMY).mark_text(text=SCORES[(r, c)], align="left", baseline="alphabetic",
                                     font=FONT, fontSize=MAIN, color="black").encode(
        x=alt.value(10.5), y=alt.value(24))
    return alt.layer(pts, line, txt, *labels_for(r, c)).properties(width=PW, height=PW)


def empty(r, c):
    layers = labels_for(r, c)
    if not layers:
        layers = [alt.Chart(DUMMY).mark_text(text=" ", opacity=0).encode(x=alt.value(0), y=alt.value(0))]
    return alt.layer(*layers).properties(width=PW, height=PW,
                                         view=alt.ViewBackground(stroke="transparent"))


cells = []
for r in range(5):
    for c in range(5):
        cells.append(panel(r, c) if c >= r else empty(r, c))

chart = alt.concat(*cells, columns=5, spacing={"row": 19.5, "column": 19.25}, bounds="flush").properties(
    padding=0
).configure_view(stroke="black", strokeWidth=1).configure_axis(
    labelFont=FONT, labelFontSize=TICKF, labelColor="black", tickColor="black", tickSize=5, tickWidth=1,
    gridColor="#b0b0b0", gridWidth=1, domain=False, labelFlush=False, labelOverlap=False, labelPadding=3
).configure_axisX(labelPadding=5)

chart.save("out.html", embed_options={"renderer": "svg", "actions": False})
